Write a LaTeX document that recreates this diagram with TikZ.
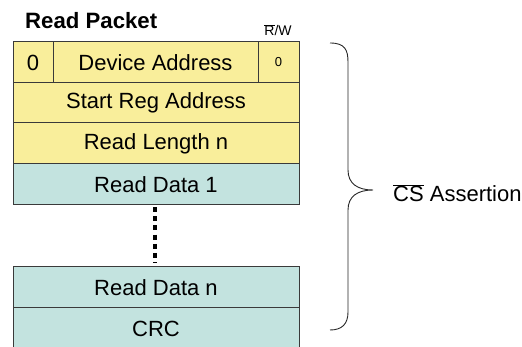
\documentclass[tikz,border=0pt]{standalone}
\usepackage{fontspec}
\setmainfont{Liberation Sans}
\definecolor{yel}{HTML}{F9EE9B}
\definecolor{teal2}{HTML}{C3E3DF}
\definecolor{edge}{HTML}{3A3A3A}
\begin{document}
\begin{tikzpicture}[x=1pt,y=1pt,
  cell/.style={draw=edge, line width=1pt, inner sep=0pt, outer sep=0pt, anchor=north west,
    font=\fontsize{22}{26}\selectfont},
  ycell/.style={cell, fill=yel},
  tcell/.style={cell, fill=teal2},
  dots/.style={line width=3.2pt, dash pattern=on 5pt off 4.2pt},
  bracestyle/.style={draw=black!85, line width=0.9pt}]
\useasboundingbox (0,0) rectangle (522,-347);
% row 1
\node[ycell, minimum width=40pt, minimum height=41pt] (zero) at (13,-42) {0};
\node[ycell, minimum width=205pt, minimum height=41pt] (dev) at (53,-42) {Device Address};
\node[ycell, minimum width=41pt, minimum height=41pt, font=\fontsize{13}{15}\selectfont] (rw) at (258,-42) {0};
\node[ycell, minimum width=286pt, minimum height=40pt] (sra) at (13,-83) {Start Reg Address};
\node[ycell, minimum width=286pt, minimum height=41pt] (rln) at (13,-123) {Read Length n};
\node[tcell, minimum width=286pt, minimum height=41pt] (rd1) at (13,-164) {Read Data 1};
\node[tcell, minimum width=286pt, minimum height=41pt] (rdn) at (13,-267) {Read Data n};
\node[tcell, minimum width=286pt, minimum height=42pt] (crc) at (13,-308) {CRC};
% dotted connector
\draw[dots] ([xshift=-1pt]rd1.south) ++(0,-2) -- ([xshift=-1pt,yshift=4pt]rdn.north);
% labels
\node[font=\bfseries\fontsize{22.2}{26}\selectfont, anchor=west, inner sep=0pt] (title) at (25,-20.5) {Read Packet};
\node[font=\fontsize{14}{16}\selectfont, inner sep=0pt] (rwlbl) at (278,-30) {$\overline{\hbox{R}}$/W};
% brace
\coordinate (btop) at (330,-43);
\coordinate (btip) at (373,-190);
\coordinate (bbot) at (330,-330);
\draw[bracestyle] (btop) .. controls (345,-43) and (348,-50) .. (348,-62)
  -- (348,-170) .. controls (348,-184) and (358,-190) .. (btip)
  .. controls (358,-190) and (348,-196) .. (348,-210)
  -- (348,-312) .. controls (348,-324) and (342,-330) .. (bbot);
\node[font=\fontsize{22}{26}\selectfont, anchor=west, inner sep=0pt] (cs) at (393,-193) {$\overline{\hbox{CS}}$ Assertion};
\end{tikzpicture}
\end{document}
